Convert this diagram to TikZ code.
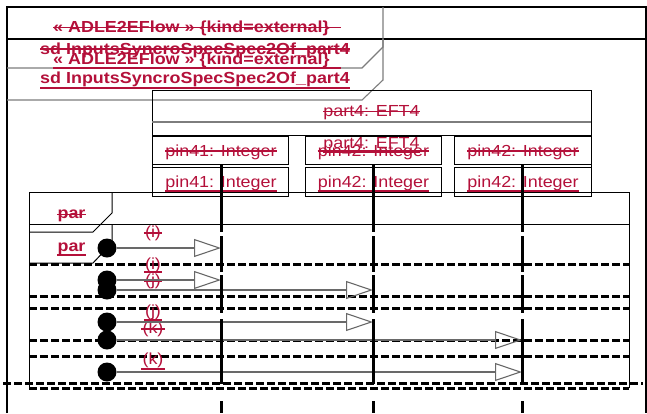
\documentclass[tikz,border=0pt]{standalone}
\usepackage{fontspec}
\setmainfont{Liberation Sans}
\usepackage{graphicx}
\usetikzlibrary{arrows.meta}
\definecolor{txtred}{RGB}{180,16,58}
\definecolor{msggray}{RGB}{105,105,105}
\definecolor{framegray}{RGB}{125,125,125}
\newcommand{\wtxt}[1]{\scalebox{1.12}[1]{#1}}
\begin{document}
\begin{tikzpicture}[x=1pt,y=-1pt,
  lbl/.style={inner sep=0pt, anchor=base, text=txtred, font=\fontsize{16}{19}\selectfont},
  lblw/.style={lbl, anchor=base west},
  bld/.style={font=\fontsize{16}{19}\selectfont\bfseries},
  strk/.style={draw=txtred, line width=1.7pt},
  frameline/.style={draw=black, line width=1.1pt},
  tabline/.style={draw=framegray, line width=1.1pt},
  boxline/.style={draw=black, line width=1pt},
  lifeline/.style={draw=black, line width=3pt,
    dash pattern=on 68pt off 4pt on 36pt off 3pt on 38pt off 6pt on 65pt off 17pt on 60pt},
  sepline/.style={draw=black, line width=3pt, dash pattern=on 8pt off 3pt},
  msgline/.style={draw=msggray, line width=1.1pt, -{Triangle[open,length=27pt,width=18pt]}},
  dotnode/.style={circle, fill=black, minimum size=19pt, inner sep=0pt},
]
\useasboundingbox (0,0) rectangle (647,413);
\fill[white] (0,0) rectangle (647,413);

% outer sd frames (two overlapping copies)
\draw[frameline] (7,413) -- (7,7) -- (646,7) -- (646,413);
\draw[frameline] (7,39) -- (646,39);
\draw[tabline] (383,7) -- (383,47) -- (362,68) -- (7,68);
\draw[tabline] (383,39) -- (383,80) -- (362,100) -- (7,100);

% lifeline head part4
\draw[boxline] (152,196) -- (152,90) -- (591,90) -- (591,196);
\draw[draw=framegray, line width=1.5pt] (152,122) -- (591,122);
\draw[boxline] (152,135) -- (591,135);
\draw[boxline] (152,136) rectangle (288,164);
\draw[boxline] (305,136) rectangle (441,164);
\draw[boxline] (454,136) rectangle (591,164);
\draw[boxline] (152,167) rectangle (288,196);
\draw[boxline] (305,167) rectangle (441,196);
\draw[boxline] (454,167) rectangle (591,196);

% par frames
\draw[boxline] (29,388) -- (29,192) -- (629,192) -- (629,388);
\draw[boxline] (29,224) -- (629,224);
\draw[boxline] (112,192) -- (112,213) -- (93,232) -- (29,232);
\draw[boxline] (112,224) -- (112,243) -- (93,263) -- (29,263);

% operand separators
\foreach \yy in {264,296,308,340,356,388}
  \draw[sepline] (29,\yy) -- (629,\yy);
\draw[sepline] (3,383) -- (643,383);

% texts of the header
\node[lblw, bld] (t1a) at (53,32) {\wtxt{« ADLE2EFlow » \{kind=external\}}};
\node[lblw, bld] (t1b) at (40,54) {\wtxt{sd InputsSyncroSpecSpec2Of\_part4}};
\node[lblw, bld] (t2a) at (53,64.5) {\wtxt{« ADLE2EFlow » \{kind=external\}}};
\node[lblw, bld] (t2b) at (40,83) {\wtxt{sd InputsSyncroSpecSpec2Of\_part4}};
\draw[strk] ([yshift=4.5pt]t1a.base west) -- ([yshift=4.5pt,xshift=11pt]t1a.base east);
\draw[strk] ([yshift=5pt]t1b.base west) -- ([yshift=5pt]t1b.base east);
\draw[strk] ([yshift=-3.5pt]t2a.base west) -- ([yshift=-3.5pt,xshift=11pt]t2a.base east);
\draw[strk] ([yshift=-5pt]t2b.base west) -- ([yshift=-5pt]t2b.base east);

\node[lbl] (p1) at (371.5,116) {\wtxt{part4: EFT4}};
\node[lbl] (p2) at (371.5,148) {\wtxt{part4: EFT4}};
\draw[strk] ([yshift=4.5pt]p1.base west) -- ([yshift=4.5pt]p1.base east);
\draw[strk] ([yshift=-4pt]p2.base west) -- ([yshift=-4pt]p2.base east);

\node[lbl] (a1) at (221,156) {\wtxt{pin41: Integer}};
\node[lbl] (b1) at (373.5,156) {\wtxt{pin42: Integer}};
\node[lbl] (c1) at (523,156) {\wtxt{pin42: Integer}};
\node[lbl] (a2) at (221,187) {\wtxt{pin41: Integer}};
\node[lbl] (b2) at (373.5,187) {\wtxt{pin42: Integer}};
\node[lbl] (c2) at (523,187) {\wtxt{pin42: Integer}};
\foreach \n in {a1,b1,c1}
  \draw[strk] ([yshift=5pt]\n.base west) -- ([yshift=5pt]\n.base east);
\foreach \n in {a2,b2,c2}
  \draw[strk] ([yshift=-4pt]\n.base west) -- ([yshift=-4pt]\n.base east);

\node[lbl, bld] (par1) at (71.5,218) {\wtxt{par}};
\node[lbl, bld] (par2) at (71.5,251) {\wtxt{par}};
\draw[strk] ([yshift=3.5pt]par1.base west) -- ([yshift=3.5pt]par1.base east);
\draw[strk] ([yshift=-4pt]par2.base west) -- ([yshift=-4pt]par2.base east);

% message labels
\node[lbl] (i1) at (153,237) {\wtxt{(i)}};
\node[lbl] (i2) at (153,269) {\wtxt{(i)}};
\node[lbl] (j1) at (153,285) {\wtxt{(j)}};
\node[lbl] (j2) at (153,316) {\wtxt{(j)}};
\node[lbl] (k1) at (153,333) {\wtxt{(k)}};
\node[lbl] (k2) at (153,364) {\wtxt{(k)}};
\foreach \n in {i1,j1,k1}
  \draw[strk] ([yshift=4pt,xshift=-1pt]\n.base west) -- ([yshift=4pt,xshift=1pt]\n.base east);
\draw[strk] ([yshift=-3pt,xshift=-1pt]i2.base west) -- ([yshift=-3pt,xshift=1pt]i2.base east);
\draw[strk] ([yshift=-4pt,xshift=-1pt]j2.base west) -- ([yshift=-4pt,xshift=1pt]j2.base east);
\draw[strk] ([yshift=-5pt,xshift=-1pt]k2.base west) -- ([yshift=-5pt,xshift=1pt]k2.base east);

% found messages
\node[dotnode] (d1a) at (107,248) {};
\node[dotnode] (d1b) at (107,280) {};
\node[dotnode] (d2a) at (107,290) {};
\node[dotnode] (d2b) at (107,322) {};
\node[dotnode] (d3a) at (107,340) {};
\node[dotnode] (d3b) at (107,372) {};
\coordinate (e1a) at (221,248);
\coordinate (e1b) at (221,280);
\coordinate (e2a) at (373,290);
\coordinate (e2b) at (373,322);
\coordinate (e3a) at (522,340);
\coordinate (e3b) at (522,372);
\draw[msgline] (d1a) -- (e1a);
\draw[msgline] (d1b) -- (e1b);
\draw[msgline] (d2a) -- (e2a);
\draw[msgline] (d2b) -- (e2b);
\draw[msgline] (d3a) -- (e3a);
\draw[msgline] (d3b) -- (e3b);

% lifelines
\coordinate (l1) at (221,164);
\coordinate (l2) at (373,164);
\coordinate (l3) at (522,164);
\coordinate (l1e) at (221,413);
\coordinate (l2e) at (373,413);
\coordinate (l3e) at (522,413);
\draw[lifeline] (l1) -- (l1e);
\draw[lifeline] (l2) -- (l2e);
\draw[lifeline] (l3) -- (l3e);
\end{tikzpicture}
\end{document}
